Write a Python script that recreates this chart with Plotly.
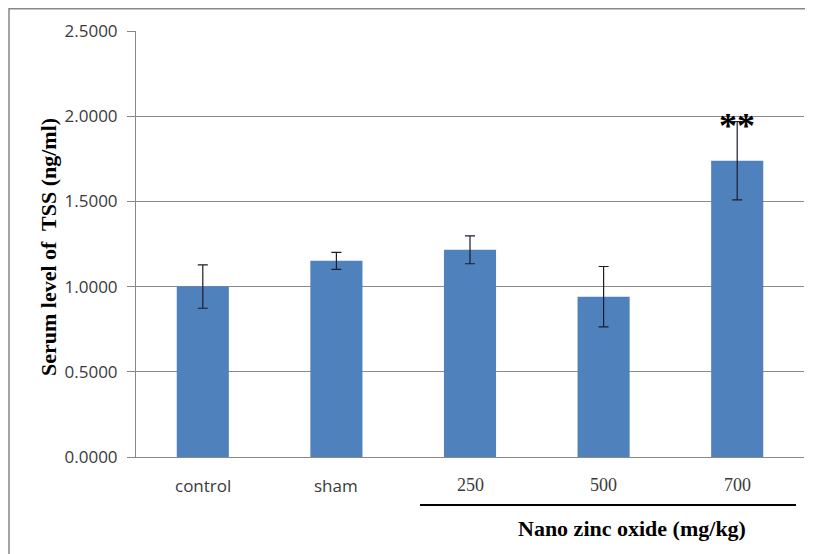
import plotly.graph_objects as go

categories = ["control", "sham", "250", "500", "700"]
means = [1.000, 1.151, 1.216, 0.941, 1.739]
errors = [0.127, 0.050, 0.082, 0.177, 0.230]
tick_labels = ["control", "sham", "250", "500", "700"]
tick_fonts = ["Open Sans", "Open Sans", "Liberation Serif", "Liberation Serif", "Liberation Serif"]
tick_sizes = [17, 17, 18, 18, 18]
y_ticks = [0, 0.5, 1.0, 1.5, 2.0, 2.5]

# page body has an 8px margin; work in screen pixels and shift
OFF = 8
W, H = 813 - OFF, 554 - OFF
L, R, T, B = 136 - OFF, 9, 31 - OFF, 97
pw, ph = W - L - R, H - T - B

def px_x(px):
    return (px - OFF - L) / pw

def px_y(py):
    return (H - B - (py - OFF)) / ph

fig = go.Figure()
fig.add_trace(go.Bar(
    x=list(range(len(categories))), y=means,
    marker=dict(color="#4F81BD", line=dict(width=0)),
    error_y=dict(type="data", array=errors, visible=True,
                 color="#1c1c2c", thickness=1.2, width=5),
    width=0.39,
))

annotations = []
for i, (lab, fam, sz) in enumerate(zip(tick_labels, tick_fonts, tick_sizes)):
    annotations.append(dict(
        text=lab, xref="x", yref="paper", x=i, y=px_y(485),
        showarrow=False, xanchor="center", yanchor="middle",
        font=dict(family=fam, size=sz, color="#3a3a3a")))

annotations += [
    dict(text="<b>Serum level of  TSS (ng/ml)</b>", xref="paper", yref="paper",
         x=px_x(48), y=px_y(247), textangle=-90,
         showarrow=False, xanchor="center", yanchor="middle",
         font=dict(family="Liberation Serif", size=22, color="black")),
    dict(text="<b>Nano zinc oxide (mg/kg)</b>", xref="paper", yref="paper",
         x=px_x(632), y=px_y(528),
         showarrow=False, xanchor="center", yanchor="middle",
         font=dict(family="Liberation Serif", size=22, color="black")),
    dict(text="<b>**</b>", xref="x", yref="y",
         x=4, y=means[4] + errors[4],
         showarrow=False, xanchor="center", yanchor="middle", yshift=-5,
         font=dict(family="Liberation Serif", size=36, color="black")),
]

fig.update_layout(
    width=W, height=H,
    margin=dict(l=L, r=R, t=T, b=B),
    paper_bgcolor="white", plot_bgcolor="white",
    showlegend=False,
    font=dict(family="Open Sans", size=14, color="#3a3a3a"),
    xaxis=dict(
        range=[-0.5, 4.5], showticklabels=False,
        showline=True, linecolor="#888888", linewidth=1,
        ticks="", showgrid=False, zeroline=False,
    ),
    yaxis=dict(
        range=[0, 2.5], tickvals=y_ticks, tickformat=".4f",
        tickfont=dict(family="Open Sans", size=17, color="#3a3a3a"),
        showline=True, linecolor="#888888", linewidth=1,
        ticks="outside", ticklen=8, tickcolor="#888888",
        showgrid=True, gridcolor="#8a8a8a", gridwidth=1,
        zeroline=False, ticklabelstandoff=6,
    ),
    shapes=[
        dict(type="rect", xref="paper", yref="paper",
             x0=px_x(9), x1=px_x(900),
             y0=px_y(700), y1=px_y(8.8),
             line=dict(color="#888888", width=1.5), layer="below"),
        dict(type="line", xref="paper", yref="paper",
             x0=px_x(420), x1=px_x(796),
             y0=px_y(505), y1=px_y(505),
             line=dict(color="black", width=2.2)),
    ],
    annotations=annotations,
)

fig.write_html("out.html")
